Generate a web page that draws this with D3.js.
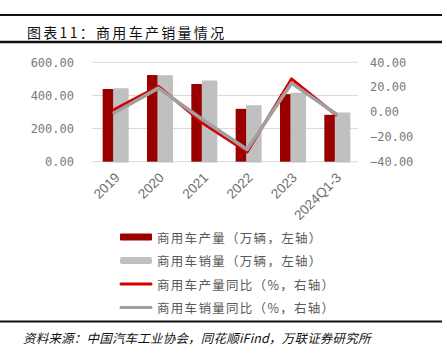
<!DOCTYPE html>
<html><head><meta charset="utf-8">
<script src="https://cdn.jsdelivr.net/npm/d3@7"></script>
<style>body{margin:0;background:#fff}svg{display:block}</style>
</head><body>
<script>
const categories = ["2019","2020","2021","2022","2023","2024Q1-3"];
const production = [439, 523, 469, 319, 408, 283];
const sales = [439, 518, 485, 336, 412, 293];
const prodYoY = [1.9, 20.6, -9.0, -32.2, 26.6, -2.2];
const salesYoY = [-0.8, 19.2, -6.2, -30.2, 23.2, -1.4];
const leftTicks = [0, 200, 400, 600];
const rightTicks = [-40, -20, 0, 20, 40];
const legendLabels = ["商用车产量（万辆，左轴）","商用车销量（万辆，左轴）","商用车产量同比（%，右轴）","商用车销量同比（%，右轴）"];
const titleText = "图表11：商用车产销量情况";
const sourceText = "资料来源：中国汽车工业协会，同花顺iFind，万联证券研究所";

const W = 447, H = 360;
const svg = d3.select("body").append("svg").attr("width", W).attr("height", H);
const CJK = "'Noto Sans CJK SC', sans-serif";
const MONO = "'DejaVu Sans Mono', monospace";

// header / footer rules
svg.append("line").attr("x1",0).attr("x2",442).attr("y1",15).attr("y2",15).attr("stroke","#111").attr("stroke-width",2);
svg.append("line").attr("x1",0).attr("x2",442).attr("y1",42).attr("y2",42).attr("stroke","#111").attr("stroke-width",2.5);
svg.append("line").attr("x1",0).attr("x2",442).attr("y1",321.5).attr("y2",321.5).attr("stroke","#111").attr("stroke-width",2);

svg.append("text").attr("x",27).attr("y",31.5).attr("dominant-baseline","central")
  .attr("font-family",CJK).attr("font-size",14).attr("letter-spacing",2.3).attr("fill","#111").text(titleText);
svg.append("text").attr("x",23).attr("y",337).attr("dominant-baseline","central")
  .attr("font-family",CJK).attr("font-size",12.5).attr("font-style","italic").attr("letter-spacing",0.2).attr("fill","#111").text(sourceText);

const x = d3.scaleBand().domain(categories).range([92, 358]).padding(0);
const yL = d3.scaleLinear().domain([0, 600]).range([161.7, 62.3]);
const yR = d3.scaleLinear().domain([-40, 40]).range([161.7, 62.3]);
const cx = c => x(c) + x.bandwidth()/2;

// grid
svg.append("g").selectAll("line").data(leftTicks).join("line")
  .attr("x1",92).attr("x2",358).attr("y1",d=>yL(d)).attr("y2",d=>yL(d))
  .attr("stroke","#d9d9d9").attr("stroke-width",1);

// left axis
const gl = svg.append("g").attr("transform","translate(74,0)")
  .call(d3.axisLeft(yL).tickValues(leftTicks).tickSize(0).tickPadding(0).tickFormat(d3.format(".2f")));
gl.select(".domain").remove();
gl.selectAll("text").attr("font-family",MONO).attr("font-size",12).attr("fill","#7a7a7a");

// right axis
const gr = svg.append("g").attr("transform","translate(370,0)")
  .call(d3.axisRight(yR).tickValues(rightTicks).tickSize(0).tickPadding(0).tickFormat(d => d3.format(".2f")(d).replace("-", "−")));
gr.select(".domain").remove();
gr.selectAll("text").attr("font-family",MONO).attr("font-size",12).attr("fill","#7a7a7a");

// x labels
svg.append("g").selectAll("text").data(categories).join("text")
  .attr("transform", d => `translate(${cx(d)+3},${175}) rotate(-45)`)
  .attr("text-anchor","end").attr("dy","0.35em")
  .attr("font-family","'Liberation Sans', Arial, sans-serif").attr("font-size",13.5).attr("fill","#6e6e6e")
  .text(d=>d);

// bars
svg.append("g").selectAll("rect").data(categories).join("rect")
  .attr("x", (d)=>cx(d)-0.25).attr("width",14)
  .attr("y",(d,i)=>yL(sales[i])).attr("height",(d,i)=>yL(0)-yL(sales[i]))
  .attr("fill","#c0c0c0").attr("stroke","#c0c0c0").attr("stroke-width",1.5).attr("stroke-linejoin","round");
svg.append("g").selectAll("rect").data(categories).join("rect")
  .attr("x", d=>cx(d)-11.5).attr("width",10.5)
  .attr("y",(d,i)=>yL(production[i])).attr("height",(d,i)=>yL(0)-yL(production[i]))
  .attr("fill","#990000");

// lines
const line = d3.line().x(d=>cx(d.c)).y(d=>yR(d.v));
svg.append("path").datum(categories.map((c,i)=>({c, v:prodYoY[i]})))
  .attr("d", line).attr("fill","none").attr("stroke","#d40000").attr("stroke-width",3).attr("stroke-linejoin","round").attr("stroke-linecap","round");
svg.append("path").datum(categories.map((c,i)=>({c, v:salesYoY[i]})))
  .attr("d", line).attr("fill","none").attr("stroke","#a0a0a0").attr("stroke-width",3.5).attr("stroke-linejoin","round").attr("stroke-linecap","round");

// legend
const rowsY = [237, 260.5, 284, 307.5];
const lg = svg.append("g");
lg.append("rect").attr("x",120).attr("y",rowsY[0]-3.5).attr("width",32).attr("height",7).attr("rx",1).attr("fill","#990000");
lg.append("rect").attr("x",120).attr("y",rowsY[1]-3.5).attr("width",32).attr("height",7).attr("rx",2).attr("fill","#c0c0c0");
lg.append("line").attr("x1",121).attr("x2",151).attr("y1",rowsY[2]).attr("y2",rowsY[2]).attr("stroke","#d40000").attr("stroke-width",3).attr("stroke-linecap","round");
lg.append("line").attr("x1",121).attr("x2",151).attr("y1",rowsY[3]).attr("y2",rowsY[3]).attr("stroke","#a0a0a0").attr("stroke-width",3).attr("stroke-linecap","round");
lg.selectAll("text").data(legendLabels).join("text")
  .attr("x",157).attr("y",(d,i)=>rowsY[i]).attr("dominant-baseline","central")
  .attr("font-family",CJK).attr("font-size",12.5).attr("letter-spacing",1.3).attr("fill","#595959")
  .text(d=>d);
</script>
</body></html>
